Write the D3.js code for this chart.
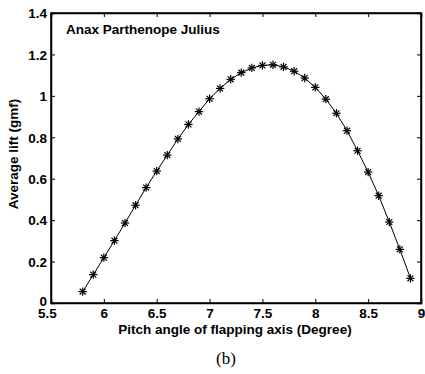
<!DOCTYPE html>
<html><head><meta charset="utf-8">
<script src="https://cdn.jsdelivr.net/npm/d3@7"></script>
<style>body{margin:0;background:#fff}svg{display:block}</style>
</head><body>
<script>
const pitchAngles = [5.8,5.9,6.0,6.1,6.2,6.3,6.4,6.5,6.6,6.7,6.8,6.9,7.0,7.1,7.2,7.3,7.4,7.5,7.6,7.7,7.8,7.9,8.0,8.1,8.2,8.3,8.4,8.5,8.6,8.7,8.8,8.9];
const avgLift = [0.055,0.137,0.219,0.301,0.386,0.472,0.557,0.637,0.714,0.792,0.862,0.924,0.986,1.036,1.080,1.112,1.135,1.147,1.150,1.140,1.119,1.086,1.041,0.984,0.916,0.832,0.735,0.632,0.518,0.391,0.259,0.119];
const xTicks = [5.5,6,6.5,7,7.5,8,8.5,9];
const yTicks = [0,0.2,0.4,0.6,0.8,1,1.2,1.4];
const titleText = "Anax Parthenope Julius";
const xLabel = "Pitch angle of flapping axis (Degree)";
const yLabel = "Average lift (gmf)";
const caption = "(b)";

const W=425,H=374;
const m={l:51,r:4,t:13,b:71};
const svg=d3.select("body").append("svg").attr("width",W).attr("height",H);
const x=d3.scaleLinear().domain([5.5,9]).range([m.l,W-m.r]);
const y=d3.scaleLinear().domain([0,1.4]).range([H-m.b,m.t]);
const font="Arial, 'Liberation Sans', sans-serif";

svg.append("rect").attr("x",x(5.5)).attr("y",y(1.4)).attr("width",x(9)-x(5.5)).attr("height",y(0)-y(1.4))
  .attr("fill","none").attr("stroke","#000").attr("stroke-width",1.5);

const fmt=d=>d3.format("~g")(d);
const gx=svg.append("g").attr("transform",`translate(0,${y(0)})`)
  .call(d3.axisBottom(x).tickValues(xTicks).tickSize(-4).tickPadding(5).tickFormat(fmt));
const gxt=svg.append("g").attr("transform",`translate(0,${y(1.4)})`)
  .call(d3.axisTop(x).tickValues(xTicks).tickSize(-4).tickFormat(""));
const gy=svg.append("g").attr("transform",`translate(${x(5.5)},0)`)
  .call(d3.axisLeft(y).tickValues(yTicks).tickSize(-4).tickPadding(4).tickFormat(fmt));
const gyr=svg.append("g").attr("transform",`translate(${x(9)},0)`)
  .call(d3.axisRight(y).tickValues(yTicks).tickSize(-4).tickFormat(""));
[gx,gxt,gy,gyr].forEach(g=>{
  g.select(".domain").attr("stroke","#000").attr("stroke-width",1.5);
  g.selectAll(".tick line").attr("stroke","#000").attr("stroke-width",1);
  g.selectAll("text").attr("font-family",font).attr("font-weight","bold").attr("font-size",13.5).attr("fill","#000");
});
gx.selectAll("text").attr("dy","0.71em");
gx.selectAll(".tick").filter(d=>d===5.5).select("text").attr("dx",-4);
gy.selectAll("text").attr("dy","0.35em");
gy.selectAll(".tick").filter(d=>d===0).select("text").attr("dy","0.2em");

svg.append("path").datum(pitchAngles.map((p,i)=>[p,avgLift[i]]))
  .attr("fill","none").attr("stroke","#000").attr("stroke-width",1)
  .attr("d",d3.line().x(d=>x(d[0])).y(d=>y(d[1])));

const star=svg.append("g").selectAll("g").data(pitchAngles.map((p,i)=>[p,avgLift[i]])).join("g")
  .attr("transform",d=>`translate(${x(d[0])},${y(d[1])})`);
const r=4.2;
[[-r,0,r,0],[0,-r,0,r],[-r*0.7,-r*0.7,r*0.7,r*0.7],[-r*0.7,r*0.7,r*0.7,-r*0.7]].forEach(s=>{
  star.append("line").attr("x1",s[0]).attr("y1",s[1]).attr("x2",s[2]).attr("y2",s[3])
    .attr("stroke","#000").attr("stroke-width",1.2);
});

svg.append("text").attr("x",66).attr("y",34).text(titleText)
  .attr("font-family",font).attr("font-weight","bold").attr("font-size",13.5);
svg.append("text").attr("x",235).attr("y",334).attr("text-anchor","middle").text(xLabel)
  .attr("font-family",font).attr("font-weight","bold").attr("font-size",13.5);
svg.append("text").attr("transform",`translate(18,154) rotate(-90)`).attr("text-anchor","middle").text(yLabel)
  .attr("font-family",font).attr("font-weight","bold").attr("font-size",13.5);
svg.append("text").attr("x",226).attr("y",364).attr("text-anchor","middle").text(caption)
  .attr("font-family","'Liberation Serif', 'Times New Roman', serif").attr("font-size",17);
</script>
</body></html>
